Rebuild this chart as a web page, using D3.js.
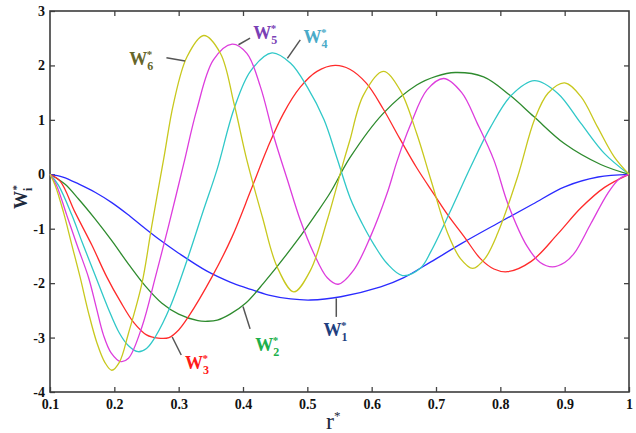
<!DOCTYPE html>
<html>
<head>
<meta charset="utf-8">
<script src="https://cdn.jsdelivr.net/npm/d3@7/dist/d3.min.js"></script>
<style>
  body { margin: 0; background: #fff; }
  .tick text { font-family: "Liberation Serif", "DejaVu Serif", serif; font-weight: bold; font-size: 14px; fill: #111; }
  .tick line { stroke: #444; stroke-width: 1.3; }
</style>
</head>
<body>
<svg id="chart" width="636" height="433"></svg>
<script>
// mode shapes, pairs of [r*, W*]
var w1 = [[0.1,0],[0.12,-0.05],[0.145,-0.18],[0.17,-0.33],[0.196,-0.52],[0.22,-0.73],[0.245,-0.97],
  [0.27,-1.2],[0.3,-1.45],[0.344,-1.78],[0.38,-1.98],[0.406,-2.09],[0.44,-2.22],[0.474,-2.29],
  [0.505,-2.31],[0.552,-2.25],[0.614,-2.07],[0.65,-1.9],[0.692,-1.61],[0.74,-1.27],[0.796,-0.9],
  [0.85,-0.55],[0.9,-0.23],[0.952,-0.05],[1,0]];
var w2 = [[0.1,0],[0.123,-0.18],[0.144,-0.45],[0.17,-0.82],[0.196,-1.22],
  [0.222,-1.65],[0.248,-2.05],[0.274,-2.37],[0.3,-2.57],[0.33,-2.69],[0.345,-2.7],[0.36,-2.68],
  [0.38,-2.57],[0.404,-2.37],[0.432,-2.0],[0.484,-1.22],[0.514,-0.72],[0.536,-0.33],[0.566,0.3],
  [0.618,1.12],[0.67,1.64],[0.7,1.8],[0.73,1.87],[0.774,1.79],[0.815,1.45],[0.852,1.06],
  [0.9,0.56],[0.956,0.18],[1,0]];
var w3 = [[0.1,0],[0.116,-0.13],[0.139,-0.7],[0.165,-1.3],[0.188,-1.88],[0.21,-2.35],[0.23,-2.72],
  [0.25,-2.95],[0.268,-3.01],[0.285,-3.0],[0.3,-2.86],[0.315,-2.62],[0.352,-1.88],[0.383,-1.15],
  [0.412,-0.3],[0.438,0.48],[0.463,1.12],[0.489,1.6],[0.515,1.89],[0.543,2.0],[0.566,1.93],
  [0.592,1.67],[0.618,1.2],[0.644,0.65],[0.67,0.12],[0.696,-0.35],[0.718,-0.74],[0.744,-1.15],
  [0.769,-1.55],[0.79,-1.74],[0.811,-1.79],[0.848,-1.6],[0.889,-1.1],[0.925,-0.62],[0.962,-0.24],[1,0]];
var w4 = [[0.1,0],[0.113,-0.2],[0.134,-0.75],[0.15,-1.25],[0.17,-1.85],[0.19,-2.45],[0.208,-2.92],
  [0.222,-3.15],[0.237,-3.26],[0.25,-3.2],[0.264,-2.98],[0.287,-2.43],[0.315,-1.51],[0.338,-0.68],
  [0.36,0.1],[0.386,1.2],[0.412,1.9],[0.445,2.23],[0.474,2.04],[0.5,1.6],[0.526,1.0],[0.546,0.3],
  [0.567,-0.45],[0.585,-0.9],[0.604,-1.3],[0.624,-1.64],[0.648,-1.86],[0.676,-1.72],[0.692,-1.42],
  [0.723,-0.66],[0.754,0.14],[0.785,0.87],[0.817,1.45],[0.853,1.72],[0.889,1.49],[0.925,0.94],
  [0.962,0.38],[1,0]];
var w5 = [[0.1,0],[0.11,-0.2],[0.126,-0.75],[0.142,-1.3],[0.16,-1.9],[0.172,-2.45],[0.183,-2.95],
  [0.195,-3.28],[0.21,-3.44],[0.222,-3.38],[0.243,-2.8],[0.264,-1.88],[0.284,-0.96],[0.308,0.2],
  [0.328,1.18],[0.354,2.1],[0.383,2.39],[0.406,2.22],[0.427,1.61],[0.448,0.69],[0.469,-0.1],
  [0.489,-0.84],[0.51,-1.45],[0.531,-1.9],[0.548,-2.02],[0.572,-1.76],[0.598,-1.15],[0.624,-0.35],
  [0.64,0.26],[0.66,0.9],[0.686,1.55],[0.712,1.76],[0.74,1.5],[0.764,0.94],[0.79,0.26],[0.812,-0.55],
  [0.842,-1.33],[0.862,-1.62],[0.881,-1.7],[0.9,-1.62],[0.915,-1.45],[0.941,-0.9],[0.967,-0.35],
  [0.985,-0.08],[1,0]];
var w6 = [[0.1,0],[0.108,-0.2],[0.121,-0.7],[0.134,-1.3],[0.147,-1.9],[0.16,-2.55],[0.173,-3.1],
  [0.185,-3.45],[0.196,-3.6],[0.208,-3.45],[0.222,-2.92],[0.243,-2.0],[0.258,-0.96],[0.277,0.3],
  [0.292,1.3],[0.313,2.16],[0.339,2.55],[0.365,2.22],[0.386,1.3],[0.406,0.26],[0.43,-0.78],
  [0.453,-1.7],[0.479,-2.16],[0.505,-1.76],[0.531,-0.84],[0.557,0.26],[0.566,0.62],[0.587,1.45],
  [0.618,1.89],[0.644,1.55],[0.67,0.75],[0.692,-0.1],[0.718,-1.08],[0.738,-1.55],[0.757,-1.73],
  [0.776,-1.55],[0.796,-1.08],[0.827,-0.04],[0.853,1.0],[0.874,1.49],[0.9,1.68],[0.925,1.43],
  [0.951,0.87],[0.977,0.32],[1,0]];

var modes = [w1, w2, w3, w4, w5, w6];
var modeNames = ["1", "2", "3", "4", "5", "6"];
var lineColors = ["#2b2bff", "#2e8b2e", "#ff2b2b", "#30c8c8", "#dd3ddd", "#c8c81e"];
var labelColors = ["#1f3f7f", "#1db04c", "#ff1a1a", "#4aaac8", "#7a3fb5", "#66662a"];

var xTicks = [0.1, 0.2, 0.3, 0.4, 0.5, 0.6, 0.7, 0.8, 0.9, 1];
var xTickLabels = ["0.1", "0.2", "0.3", "0.4", "0.5", "0.6", "0.7", "0.8", "0.9", "1"];
var yTicks = [-4, -3, -2, -1, 0, 1, 2, 3];
var yTickLabels = ["-4", "-3", "-2", "-1", "0", "1", "2", "3"];

// label placement in data units: text spot, leader start, leader end
var labelSpots = [
  { text: [0.525, -2.98], from: [0.545, -2.28], to: [0.545, -2.62] },
  { text: [0.419, -3.25], from: [0.4, -2.43], to: [0.411, -2.84] },
  { text: [0.31, -3.58], from: [0.29, -2.99], to: [0.304, -3.32] },
  { text: [0.494, 2.42], from: [0.469, 2.13], to: [0.489, 2.47] },
  { text: [0.416, 2.49], from: [0.393, 2.38], to: [0.411, 2.5] },
  { text: [0.223, 2.0], from: [0.281, 2.14], to: [0.31, 2.08] }
];

var margin = { top: 11, right: 7, bottom: 41, left: 50 };
var width = 636 - margin.left - margin.right;
var height = 433 - margin.top - margin.bottom;

var svg = d3.select("#chart");
var g = svg.append("g")
  .attr("transform", "translate(" + margin.left + "," + margin.top + ")");

var x = d3.scaleLinear().domain([0.1, 1]).range([0, width]);
var y = d3.scaleLinear().domain([-4, 3]).range([height, 0]);

// axes, ticks pointing inwards on all four sides
g.append("g")
  .attr("transform", "translate(0," + height + ")")
  .call(d3.axisBottom(x).tickValues(xTicks).tickSize(-5).tickPadding(7)
    .tickFormat(function(d, i) { return xTickLabels[i]; }));
g.append("g")
  .call(d3.axisTop(x).tickValues(xTicks.slice(1, -1)).tickSize(-5).tickFormat(""));
g.append("g")
  .call(d3.axisLeft(y).tickValues(yTicks).tickSize(-5).tickPadding(5)
    .tickFormat(function(d, i) { return yTickLabels[i]; }));
g.append("g")
  .attr("transform", "translate(" + width + ",0)")
  .call(d3.axisRight(y).tickValues(yTicks.slice(1, -1)).tickSize(-5).tickFormat(""));
g.selectAll(".domain").remove();

g.append("rect")
  .attr("width", width)
  .attr("height", height)
  .attr("fill", "none")
  .attr("stroke", "#3c3c3c")
  .attr("stroke-width", 1.6);

var line = d3.line()
  .x(function(d) { return x(d[0]); })
  .y(function(d) { return y(d[1]); })
  .curve(d3.curveCatmullRom.alpha(0.5));

g.selectAll(".mode")
  .data(modes)
  .enter().append("path")
  .attr("class", "mode")
  .attr("d", line)
  .attr("fill", "none")
  .attr("stroke", function(d, i) { return lineColors[i]; })
  .attr("stroke-width", 1.3);

// leader lines + labels W_n*
labelSpots.forEach(function(s, i) {
  g.append("line")
    .attr("x1", x(s.from[0])).attr("y1", y(s.from[1]))
    .attr("x2", x(s.to[0])).attr("y2", y(s.to[1]))
    .attr("stroke", "#555")
    .attr("stroke-width", 1.5);

  var t = g.append("text")
    .attr("x", x(s.text[0]))
    .attr("y", y(s.text[1]))
    .attr("fill", labelColors[i])
    .style("font-family", "'Liberation Serif', 'DejaVu Serif', serif")
    .style("font-weight", "bold")
    .style("font-size", "18px");
  t.append("tspan").text("W");
  t.append("tspan").attr("dy", 5).style("font-size", "12px").text(modeNames[i]);
  t.append("tspan").attr("dx", -6.5).attr("dy", -12).style("font-size", "11px").text("*");
});

// axis titles
var yTitle = svg.append("text")
  .attr("transform", "translate(27,197) rotate(-90)")
  .attr("text-anchor", "middle")
  .attr("fill", "#1e2a3c")
  .style("font-family", "'Liberation Serif', 'DejaVu Serif', serif")
  .style("font-weight", "bold")
  .style("font-size", "18px");
yTitle.append("tspan").text("W");
yTitle.append("tspan").attr("dy", 5).style("font-size", "12px").text("i");
yTitle.append("tspan").attr("dx", -3).attr("dy", -12).style("font-size", "11px").text("*");

var xTitle = svg.append("text")
  .attr("x", 326)
  .attr("y", 429)
  .attr("fill", "#1e2a3c")
  .style("font-family", "'Liberation Serif', 'DejaVu Serif', serif")
  .style("font-size", "24px");
xTitle.append("tspan").text("r");
xTitle.append("tspan").attr("dy", -9).style("font-size", "13px").text("*");
</script>
</body>
</html>
